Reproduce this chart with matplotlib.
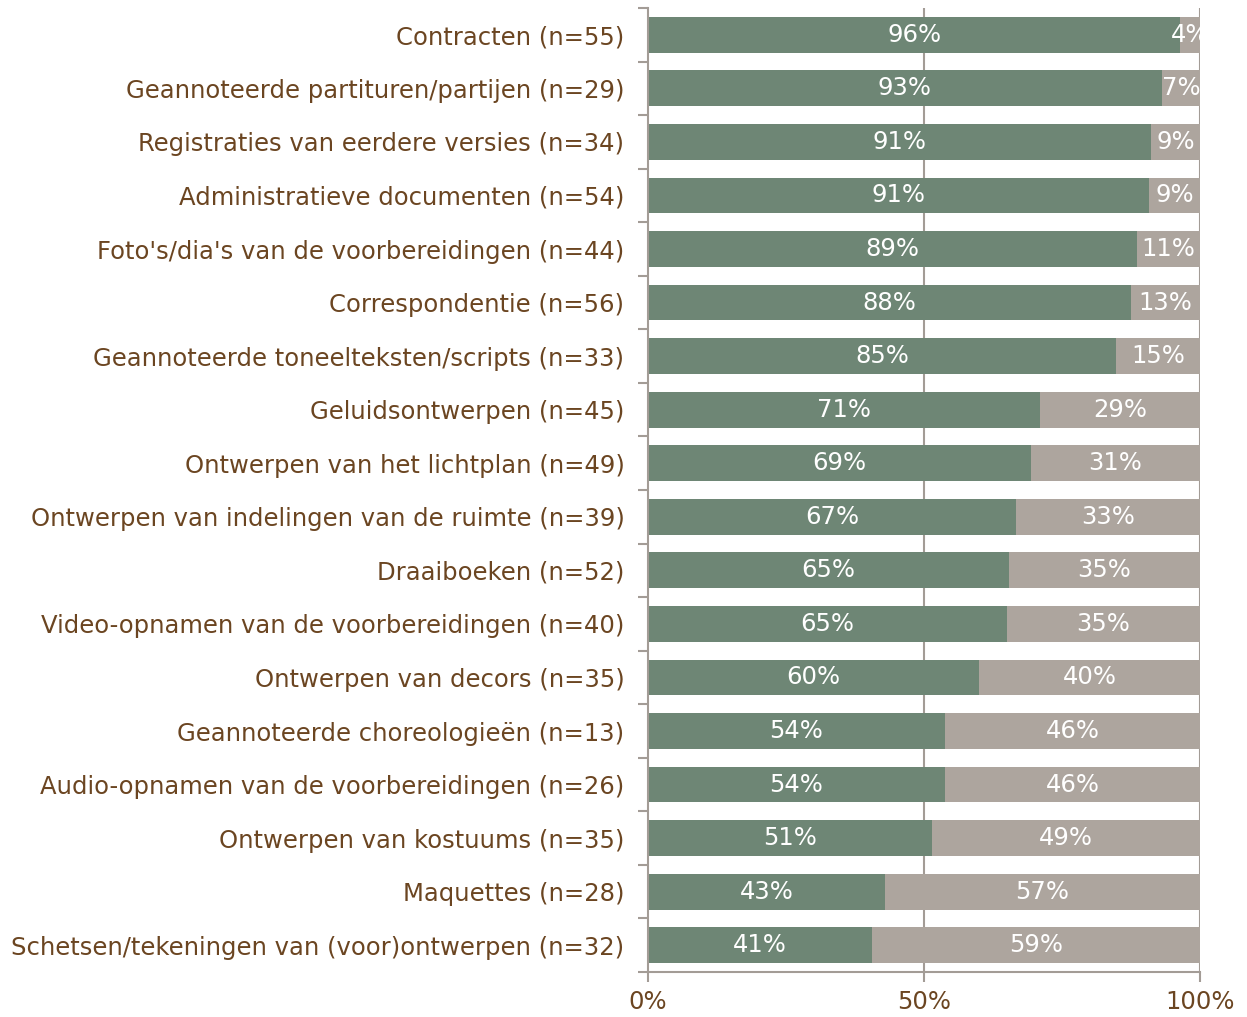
import matplotlib
matplotlib.use("Agg")
import matplotlib.pyplot as plt

# Categories (top to bottom as in the chart)
categories = [
    "Contracten (n=55)",
    "Geannoteerde partituren/partijen (n=29)",
    "Registraties van eerdere versies (n=34)",
    "Administratieve documenten (n=54)",
    "Foto's/dia's van de voorbereidingen (n=44)",
    "Correspondentie (n=56)",
    "Geannoteerde toneelteksten/scripts (n=33)",
    "Geluidsontwerpen (n=45)",
    "Ontwerpen van het lichtplan (n=49)",
    "Ontwerpen van indelingen van de ruimte (n=39)",
    "Draaiboeken (n=52)",
    "Video-opnamen van de voorbereidingen (n=40)",
    "Ontwerpen van decors (n=35)",
    "Geannoteerde choreologieën (n=13)",
    "Audio-opnamen van de voorbereidingen (n=26)",
    "Ontwerpen van kostuums (n=35)",
    "Maquettes (n=28)",
    "Schetsen/tekeningen van (voor)ontwerpen (n=32)",
]

# Shares in percent
green_share = [96.4, 93.1, 91.2, 90.7, 88.6, 87.5, 84.8, 71.1, 69.4, 66.7,
               65.4, 65.0, 60.0, 53.8, 53.8, 51.4, 42.9, 40.6]
grey_share = [3.6, 6.9, 8.8, 9.3, 11.4, 12.5, 15.2, 28.9, 30.6, 33.3,
              34.6, 35.0, 40.0, 46.2, 46.2, 48.6, 57.1, 59.4]
green_labels = ["96%", "93%", "91%", "91%", "89%", "88%", "85%", "71%", "69%",
                "67%", "65%", "65%", "60%", "54%", "54%", "51%", "43%", "41%"]
grey_labels = ["4%", "7%", "9%", "9%", "11%", "13%", "15%", "29%", "31%",
               "33%", "35%", "35%", "40%", "46%", "46%", "49%", "57%", "59%"]

GREEN = "#6E8675"
GREY = "#ADA59E"
BROWN = "#6B4521"
AXIS = "#A39C96"

plt.rcParams['font.family'] = ['DejaVu Sans']

fig = plt.figure(figsize=(12.47, 10.17), dpi=100)
ax = fig.add_axes([648 / 1247, 1 - 972 / 1017, 552 / 1247, 964 / 1017])

ypos = list(range(len(categories)))
ax.barh(ypos, green_share, height=0.67, color=GREEN, zorder=2)
ax.barh(ypos, grey_share, left=green_share, height=0.67, color=GREY, zorder=2)

for i in ypos:
    ax.text(green_share[i] / 2, i, green_labels[i], color="white", fontsize=17.5,
            ha="center", va="center", zorder=3)
    ax.text(green_share[i] + grey_share[i] / 2, i, grey_labels[i], color="white",
            fontsize=17.5, ha="center", va="center", zorder=3, clip_on=True)

ax.set_xlim(0, 100)
ax.set_ylim(len(categories) - 0.5, -0.5)

# vertical gridlines at 50% and 100%
for x in (50, 100):
    ax.axvline(x, color=AXIS, lw=1.5, zorder=1)

ax.set_xticks([0, 50, 100])
ax.set_xticklabels(["0%", "50%", "100%"])
ax.set_yticks([i - 0.5 for i in range(len(categories) + 1)], minor=False)
ax.set_yticklabels([])
ax.set_yticks(ypos, minor=True)
ax.set_yticklabels(categories, minor=True)

ax.tick_params(axis="y", which="major", length=7, width=1.5, color=AXIS, direction="out")
ax.tick_params(axis="y", which="minor", length=0, labelsize=17.5, labelcolor=BROWN, pad=17)
ax.tick_params(axis="x", length=7, width=1.5, color=AXIS, labelsize=17.5,
               labelcolor=BROWN, pad=6)

for side in ("top", "right"):
    ax.spines[side].set_visible(False)
for side in ("left", "bottom"):
    ax.spines[side].set_color(AXIS)
    ax.spines[side].set_linewidth(1.5)

fig.savefig("out.png", dpi=100)
